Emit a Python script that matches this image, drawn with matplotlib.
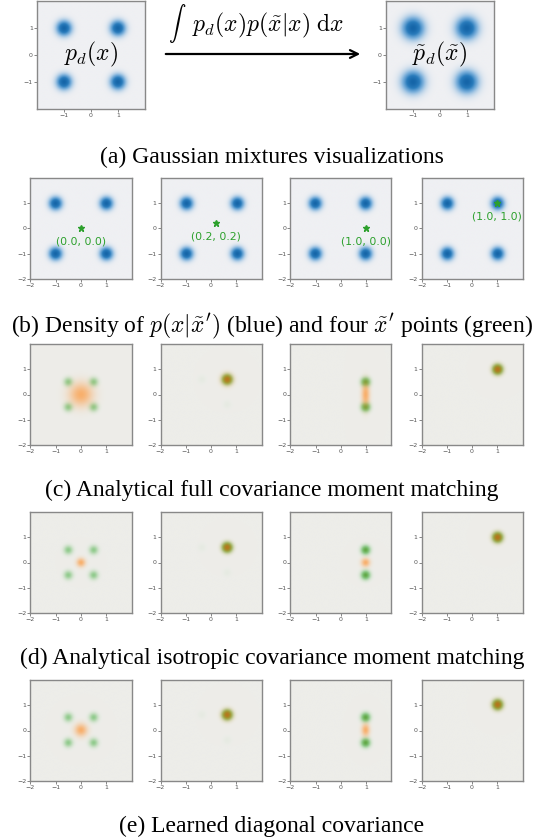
import numpy as np
import matplotlib
matplotlib.use("Agg")
import matplotlib.pyplot as plt
from matplotlib.colors import LinearSegmentedColormap, to_rgb

plt.rcParams['mathtext.fontset'] = 'cm'
plt.rcParams['font.family'] = ['DejaVu Sans']

# ---- data ----
MODE_X = [-1.0, -1.0, 1.0, 1.0]
MODE_Y = [-1.0, 1.0, -1.0, 1.0]
DATA_STD = 0.18
NOISY_STD = 0.26
ROW_B_STD = 0.165

QUERY_X = [0.0, 0.2, 1.0, 1.0]
QUERY_Y = [0.0, 0.2, 0.0, 1.0]
QUERY_LABELS = ['(0.0, 0.0)', '(0.2, 0.2)', '(1.0, 0.0)', '(1.0, 1.0)']

# true posterior p(x|x~'): component weights per query (same order as modes)
POST_STD = 0.12
POST_W = [[0.25, 0.25, 0.25, 0.25],
          [0.00, 0.02, 0.02, 0.96],
          [0.00, 0.00, 0.50, 0.50],
          [0.00, 0.00, 0.00, 1.00]]

# gaussian approximations (orange)
APPROX_CX = [0.0, 0.6, 1.0, 1.0]
APPROX_CY = [0.0, 0.6, 0.0, 1.0]
FULL_SX = [0.32, 0.16, 0.11, 0.145]
FULL_SY = [0.32, 0.16, 0.35, 0.145]
ISO_SX = [0.12, 0.14, 0.12, 0.145]
ISO_SY = [0.12, 0.14, 0.12, 0.145]
DIAG_SX = [0.17, 0.15, 0.11, 0.145]
DIAG_SY = [0.17, 0.15, 0.17, 0.145]

CAPTIONS = ['(a) Gaussian mixtures visualizations',
            r"(b) Density of $p(x|\tilde{x}')$ (blue) and four $\tilde{x}'$ points (green)",
            '(c) Analytical full covariance moment matching',
            '(d) Analytical isotropic covariance moment matching',
            '(e) Learned diagonal covariance']

# ---- helpers ----
W, H = 544, 840
BG_BLUE = '#eff0f3'
BG_WARM = '#edede9'
grid = np.linspace(-2, 2, 240)
GX, GY = np.meshgrid(grid, grid)


def gauss(cx, cy, sx, sy):
    return np.exp(-0.5 * (((GX - cx) / sx) ** 2 + ((GY - cy) / sy) ** 2)) / (2 * np.pi * sx * sy)


def mixture(xs, ys, ws, sx, sy):
    d = np.zeros_like(GX)
    for x, y, w in zip(xs, ys, ws):
        d += w * gauss(x, y, sx, sy)
    return d


blue_cmap = LinearSegmentedColormap.from_list('b', [BG_BLUE, '#7fb2dc', '#2a7cbc', '#1565a8'], N=256)
green_cmap = LinearSegmentedColormap.from_list(
    'g', [(0, BG_WARM), (0.25, '#8fca8b'), (0.5, '#5fa845'), (1.0, '#3f5212')], N=256)
ORANGE = np.array(to_rgb('#ff8a20'))


def px_axes(fig, left, top, w, h):
    return fig.add_axes([left / W, 1 - (top + h) / H, w / W, h / H])


def style(ax, ticks):
    ax.set_xlim(-2, 2)
    ax.set_ylim(-2, 2)
    ax.set_xticks(ticks)
    ax.set_yticks(ticks)
    ax.tick_params(labelsize=4.5, length=2, width=0.5, pad=1, colors='#555555')
    for sp in ax.spines.values():
        sp.set_color('#888888')
        sp.set_linewidth(1.0)


fig = plt.figure(figsize=(W / 100, H / 100), dpi=100)

# ---- row (a) ----
dens_a = [mixture(MODE_X, MODE_Y, [0.25] * 4, DATA_STD, DATA_STD),
          mixture(MODE_X, MODE_Y, [0.25] * 4, NOISY_STD, NOISY_STD)]
labels_a = [r'$p_d(x)$', r'$\tilde{p}_d(\tilde{x})$']
for left, d, lab in zip([37, 386], dens_a, labels_a):
    ax = px_axes(fig, left, 0.5, 108, 108.5)
    ax.imshow(d / d.max(), cmap=blue_cmap, extent=[-2, 2, -2, 2], origin='lower',
              vmin=0, vmax=1, interpolation='bilinear')
    style(ax, [-1, 0, 1])
    ax.text(0, 0, lab, fontsize=17, ha='center', va='center')

fig.patches.append(matplotlib.patches.FancyArrowPatch(
    (163 / W, 1 - 54 / H), (363 / W, 1 - 54 / H), transform=fig.transFigure,
    arrowstyle='->', mutation_scale=14, lw=1.6, color='black'))
fig.text(177 / W, 1 - 23 / H, r'$\int$', fontsize=12.5, ha='center', va='center')
fig.text(268 / W, 1 - 25 / H, r'$p_d(x)p(\tilde{x}|x)\;\mathrm{d}x$',
         fontsize=17, ha='center', va='center')

# ---- rows (b)-(e) ----
LEFTS = [29, 159, 289, 420]
TOPS = [178, 344, 512, 680]
PANEL_W, PANEL_H = 104, 101
CAPTION_Y = [157, 326, 490, 658, 826]

data_dens = mixture(MODE_X, MODE_Y, [0.25] * 4, ROW_B_STD, ROW_B_STD)
for i, left in enumerate(LEFTS):
    ax = px_axes(fig, left, TOPS[0], PANEL_W, PANEL_H)
    ax.imshow(data_dens / data_dens.max(), cmap=blue_cmap, extent=[-2, 2, -2, 2],
              origin='lower', vmin=0, vmax=1, interpolation='bilinear')
    style(ax, [-2, -1, 0, 1])
    ax.plot(QUERY_X[i], QUERY_Y[i], marker='*', color='#2ca02c', markersize=5)
    ax.text(QUERY_X[i], QUERY_Y[i] - 0.52, QUERY_LABELS[i], color='#2ca02c',
            fontsize=7.8, ha='center', va='center')

approx_rows = [(FULL_SX, FULL_SY), (ISO_SX, ISO_SY), (DIAG_SX, DIAG_SY)]
peak_single = 1 / (2 * np.pi * POST_STD ** 2)
for r, (sxs, sys_) in enumerate(approx_rows):
    for i, left in enumerate(LEFTS):
        post_x = [(QUERY_X[i] + m) / 2 for m in MODE_X]
        post_y = [(QUERY_Y[i] + m) / 2 for m in MODE_Y]
        g = mixture(post_x, post_y, POST_W[i], POST_STD, POST_STD) / peak_single
        rgb = green_cmap(np.clip(g, 0, 1))[..., :3]
        o = gauss(APPROX_CX[i], APPROX_CY[i], sxs[i], sys_[i])
        a = 0.62 * (o / o.max())[..., None]
        img = (1 - a) * rgb + a * ORANGE
        ax = px_axes(fig, left, TOPS[r + 1], PANEL_W, PANEL_H)
        ax.imshow(img, extent=[-2, 2, -2, 2], origin='lower', interpolation='bilinear')
        style(ax, [-2, -1, 0, 1])

for cap, y in zip(CAPTIONS, CAPTION_Y):
    fig.text(0.5, 1 - y / H, cap, fontsize=17, ha='center', va='center',
             family='Liberation Serif')

fig.savefig('out.png', dpi=100)
